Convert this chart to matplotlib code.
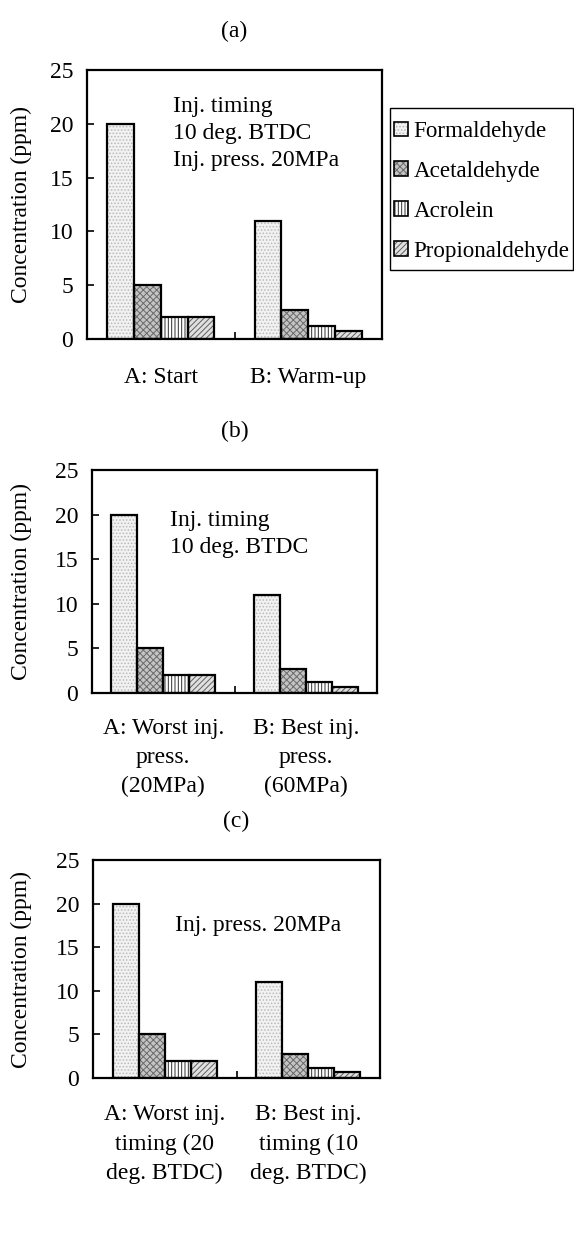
import matplotlib
matplotlib.use("Agg")
import matplotlib.pyplot as plt
from matplotlib.patches import Patch, Rectangle
import numpy as np

# ---- data ----
series = ["Formaldehyde", "Acetaldehyde", "Acrolein", "Propionaldehyde"]
cond_a = ["A: Start", "B: Warm-up"]
cond_b = ["A: Worst inj.\npress.\n(20MPa)", "B: Best inj.\npress.\n(60MPa)"]
cond_c = ["A: Worst inj.\ntiming (20\ndeg. BTDC)", "B: Best inj.\ntiming (10\ndeg. BTDC)"]
vals_A = [20, 5, 2, 2]
vals_B = [11, 2.7, 1.2, 0.7]
yticks = [0, 5, 10, 15, 20, 25]

plt.rcParams['font.family'] = ['Liberation Serif', 'DejaVu Serif']
plt.rcParams['hatch.linewidth'] = 0.7
FS = 17

W, H = 574, 1233
fig = plt.figure(figsize=(W / 100, H / 100), dpi=100)

styles = [
    dict(face='#f2f2f2', hatch='.....', hc='#b8b8b8'),
    dict(face='#c4c4c4', hatch='xxxxx', hc='#6a6a6a'),
    dict(face='white', hatch='|||||', hc='#303030'),
    dict(face='#e0e0e0', hatch='//////', hc='#606060'),
]


def px_axes(l, r, t, b):
    return fig.add_axes([l / W, 1 - b / H, (r - l) / W, (b - t) / H])


def draw(ax, labels, title, note, note_xy, label_pad):
    x = np.arange(len(labels))
    bw = 1 / 5.5
    data = np.array([vals_A, vals_B])
    for i, st in enumerate(styles):
        xs = x + (i - 1.5) * bw
        ax.bar(xs, data[:, i], bw, color=st['face'], hatch=st['hatch'],
               edgecolor=st['hc'], linewidth=0, zorder=2)
        ax.bar(xs, data[:, i], bw, fill=False, edgecolor='black',
               linewidth=1.6, zorder=3)
    ax.set_xlim(-0.5, 1.5)
    ax.set_ylim(0, 25)
    ax.set_yticks(yticks)
    ax.set_yticklabels([str(v) for v in yticks], fontsize=FS)
    ax.tick_params(axis='y', direction='in', length=5, width=1.2, pad=10)
    ax.set_xticks(x)
    ax.set_xticklabels(labels, fontsize=FS, linespacing=1.5)
    ax.tick_params(axis='x', which='major', length=0, pad=label_pad)
    ax.set_xticks([0.5], minor=True)
    ax.tick_params(axis='x', which='minor', direction='in', length=5, width=1.2)
    for s in ax.spines.values():
        s.set_linewidth(1.6)
    ax.text(note_xy[0], note_xy[1], note, transform=ax.transAxes,
            fontsize=FS, ha='left', va='top', linespacing=1.38)
    pos = ax.get_position()
    fig.text((pos.x0 + pos.x1) / 2, pos.y1 + 39 / H, title, fontsize=FS,
             ha='center', va='center')
    fig.text(21 / W, (pos.y0 + pos.y1) / 2, 'Concentration (ppm)', fontsize=FS,
             rotation=90, ha='center', va='center')


ax_a = px_axes(87, 382, 70, 339)
draw(ax_a, cond_a, '(a)', 'Inj. timing\n10 deg. BTDC\nInj. press. 20MPa',
     (0.29, 0.905), 20)
ax_b = px_axes(92, 377, 470, 693)
draw(ax_b, cond_b, '(b)', 'Inj. timing\n10 deg. BTDC', (0.274, 0.82), 18)
ax_c = px_axes(93, 380, 860, 1078)
draw(ax_c, cond_c, '(c)', 'Inj. press. 20MPa', (0.286, 0.747), 19)

# legend frame (a)
fig.add_artist(Rectangle((390 / W, 1 - 270 / H), 183 / W, 162 / H,
                         transform=fig.transFigure, fill=False,
                         edgecolor='black', linewidth=1.0))
handles = []
for st in styles:
    handles.append((Patch(facecolor=st['face'], hatch=st['hatch'],
                          edgecolor=st['hc'], linewidth=0),
                    Patch(fill=False, edgecolor='black', linewidth=1.2)))
leg = ax_a.legend(handles, series, loc='upper left',
                  bbox_to_anchor=(394 / W, 1 - 121 / H),
                  bbox_transform=fig.transFigure, borderaxespad=0,
                  fontsize=16.6, frameon=False,
                  handlelength=0.6, handleheight=0.6, handletextpad=0.25,
                  labelspacing=0.82, borderpad=0)

fig.savefig('out.png', dpi=100)
